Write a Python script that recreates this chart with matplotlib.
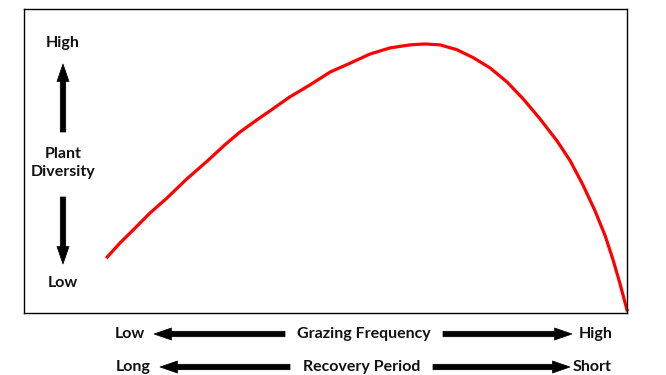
"""
plot.py
-------
Plant diversity vs grazing frequency / recovery period schematic.
"""

import matplotlib
matplotlib.use("Agg")
import matplotlib.pyplot as plt

# ---------------------------------------------------------------------------
# Data (both axes on a 0-100 relative scale)
# ---------------------------------------------------------------------------
grazing_freq = [13.8, 15.9, 18.1, 20.9, 23.7, 27.0, 30.4, 33.3, 35.8, 38.6,
                40.8, 44.1, 47.4, 50.8, 54.1, 57.4, 60.7, 64.0, 66.5, 69.0,
                71.8, 74.5, 77.3, 80.1, 82.8, 85.6, 88.4, 90.6, 92.7, 94.7,
                96.4, 97.7, 98.8, 100.0]
plant_diversity = [18.4, 23.0, 27.3, 32.9, 37.8, 44.1, 50.0, 55.3, 59.5, 63.5,
                   66.5, 71.1, 75.0, 79.3, 82.2, 85.2, 87.2, 88.2, 88.5, 88.2,
                   86.6, 84.0, 80.6, 76.0, 70.4, 63.8, 56.6, 50.0, 42.1, 33.6,
                   25.3, 17.4, 9.9, 1.0]

y_labels = ["High", "Plant\nDiversity", "Low"]
row1_labels = ["Low", "Grazing Frequency", "High"]
row2_labels = ["Long", "Recovery Period", "Short"]

# ---------------------------------------------------------------------------
# Layout
# ---------------------------------------------------------------------------
_W, _H = 666, 375
_DPI = 100
_FONT = "Lato"
_FS = 11.5
_ARROW = "simple,head_length=0.9,head_width=0.62,tail_width=0.28"


def px(x, y):
    """Pixel position (top-left origin) -> figure fraction."""
    return (x / _W, 1 - y / _H)


def arrow(fig, tail, tip):
    fig.add_artist(matplotlib.patches.FancyArrowPatch(
        px(*tail), px(*tip), transform=fig.transFigure,
        arrowstyle=_ARROW, mutation_scale=14,
        fc="black", ec="black", lw=0.5, shrinkA=0, shrinkB=0,
    ))


def label(fig, x, y, s):
    fig.text(*px(x, y), s, ha="center", va="center", fontsize=_FS,
             fontweight="bold", family=_FONT, color="#111111",
             linespacing=1.3)


fig = plt.figure(figsize=(_W / _DPI, _H / _DPI), dpi=_DPI)
ax = fig.add_axes([24 / _W, 62 / _H, 603 / _W, 304 / _H])

ax.plot(grazing_freq, plant_diversity, color="#ff0000", lw=2.3,
        solid_joinstyle="round", clip_on=False)
ax.set_xlim(0, 100)
ax.set_ylim(0, 100)
ax.set_xticks([])
ax.set_yticks([])
for sp in ax.spines.values():
    sp.set_linewidth(1.0)
    sp.set_color("black")

# -- vertical axis legend --------------------------------------------------
label(fig, 63, 43, y_labels[0])
label(fig, 63, 163, y_labels[1])
label(fig, 63, 283, y_labels[2])
arrow(fig, (63, 132), (63, 64))
arrow(fig, (63, 197), (63, 264))

# -- horizontal axis legends -----------------------------------------------
label(fig, 130, 334, row1_labels[0])
label(fig, 364, 334, row1_labels[1])
label(fig, 596, 334, row1_labels[2])
arrow(fig, (285, 334), (154, 334))
arrow(fig, (443, 334), (572, 334))

label(fig, 133, 367, row2_labels[0])
label(fig, 362, 367, row2_labels[1])
label(fig, 592, 367, row2_labels[2])
arrow(fig, (290, 367), (160, 367))
arrow(fig, (433, 367), (570, 367))

fig.savefig("out.png", dpi=_DPI, facecolor="white")
